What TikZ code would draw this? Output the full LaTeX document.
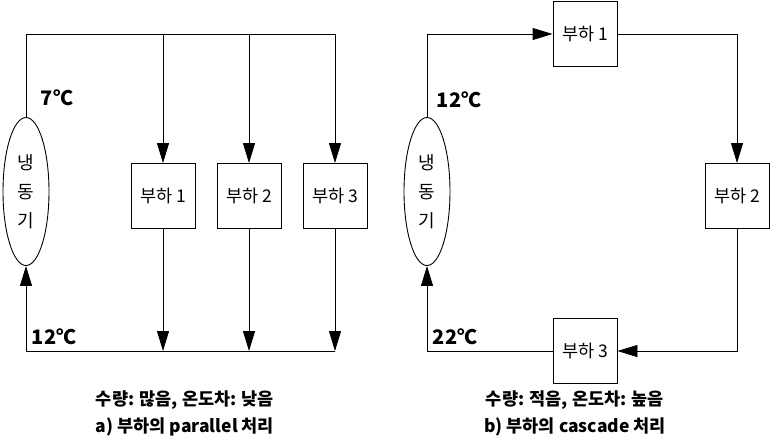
\documentclass[tikz,border=0pt]{standalone}
\usepackage{fontspec}
\setmainfont{Noto Sans CJK KR}
\usetikzlibrary{arrows.meta,shapes.geometric}

\begin{document}
\begin{tikzpicture}[x=1pt,y=-1pt,line width=0.9pt]
\tikzstyle{load} = [rectangle, draw = black, minimum width=64pt, minimum height=65pt, inner sep=0pt, font=\fontsize{17.5}{20}\selectfont]
\tikzstyle{chiller} = [ellipse, draw = black, minimum width=46pt, minimum height=148pt, inner sep=0pt, align=center, font=\fontsize{18}{29}\selectfont]
\tikzstyle{edge} = [-{Triangle[length=20pt,width=12pt]}]
\tikzstyle{temp} = [font=\fontsize{20}{22}\selectfont\bfseries]
\tikzstyle{caption} = [font=\fontsize{17.5}{20}\selectfont\bfseries]
\useasboundingbox (0,0) rectangle (770,440);
% a) parallel
\node[chiller] (chA) at (26, 191.5) {냉\\동\\기};
\node[load] (la1) at (163, 196) {부하 1};
\node[load] (la2) at (249, 196) {부하 2};
\node[load] (la3) at (335, 196) {부하 3};
\coordinate (tl) at (26, 34);
\coordinate (ta1) at (163, 34);
\coordinate (ta2) at (249, 34);
\coordinate (ta3) at (335, 34);
\coordinate (bl) at (26, 351);
\coordinate (ba1) at (163, 351);
\coordinate (ba2) at (249, 351);
\coordinate (ba3) at (335, 351);
\draw (chA) -- (tl) -- (ta3);
\draw[edge] (ta1)--(la1);
\draw[edge] (ta2)--(la2);
\draw[edge] (ta3)--(la3);
\draw[edge] (la1)--(ba1);
\draw[edge] (la2)--(ba2);
\draw[edge] (la3)--(ba3);
\draw (ba3) -- (bl);
\draw[edge] (bl)--(chA);
\node[temp] (tA1) at (57, 98) {7℃};
\node[temp] (tA2) at (54, 337) {12℃};
\node[caption] (capA1) at (185, 400) {수량: 많음, 온도차: 낮음};
\node[caption] (capA2) at (185, 427) {a) 부하의 parallel 처리};
% b) cascade
\node[chiller] (chB) at (427, 191.5) {냉\\동\\기};
\node[load] (lb1) at (585, 34) {부하 1};
\node[load] (lb2) at (737, 196) {부하 2};
\node[load] (lb3) at (585, 351) {부하 3};
\coordinate (c1) at (427, 34);
\coordinate (c2) at (737, 34);
\coordinate (c3) at (737, 351);
\coordinate (c4) at (427, 351);
\draw[edge] (chB)--(c1)--(lb1);
\draw[edge] (lb1)--(c2)--(lb2);
\draw[edge] (lb2)--(c3)--(lb3);
\draw[edge] (lb3)--(c4)--(chB);
\node[temp] (tB1) at (459, 100) {12℃};
\node[temp] (tB2) at (455, 337) {22℃};
\node[caption] (capB1) at (575, 400) {수량: 적음, 온도차: 높음};
\node[caption] (capB2) at (575, 427) {b) 부하의 cascade 처리};
\end{tikzpicture}
\end{document}
